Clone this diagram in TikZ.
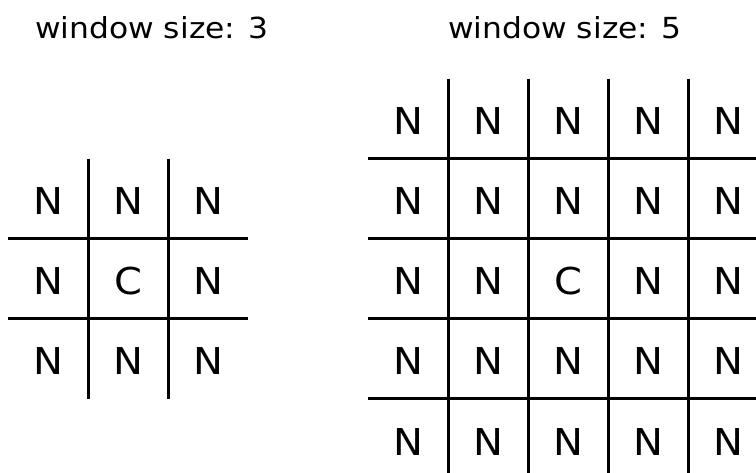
\documentclass[tikz,border=0pt]{standalone}
\usepackage{fontspec}
\setmainfont{DejaVu Sans}[FakeStretch=1.08]
\begin{document}
\begin{tikzpicture}[x=1pt,y=-1pt,
  gridline/.style={line width=3pt},
  cell/.style={font=\fontsize{37}{40}\selectfont, anchor=base, inner sep=0pt},
  title/.style={font=\fontsize{29}{32}\selectfont, anchor=base west, inner sep=0pt}]
\useasboundingbox (0,0) rectangle (756,473);
\clip (0,0) rectangle (756,473);
\node[title] (t3) at (35,39) {window size: 3};
\node[title] (t5) at (448,39) {window size: 5};
% left grid
\foreach \x in {88,168} \draw[gridline] (\x,159) -- (\x,399);
\foreach \y in {239,319} \draw[gridline] (8,\y) -- (248,\y);
\foreach \r in {0,1,2} \foreach \c in {0,1,2}
  \node[cell] (a\r\c) at ({48+80*\c},{215+80*\r}) {\ifnum\r\c=11 C\else N\fi};
% right grid
\foreach \x in {448,528,608,688} \draw[gridline] (\x,79) -- (\x,479);
\foreach \y in {159,239,319,399} \draw[gridline] (368,\y) -- (768,\y);
\foreach \r in {0,1,2,3,4} \foreach \c in {0,1,2,3,4}
  \node[cell] (b\r\c) at ({408+80*\c},{135+80*\r}) {\ifnum\r\c=22 C\else N\fi};
\end{tikzpicture}
\end{document}
